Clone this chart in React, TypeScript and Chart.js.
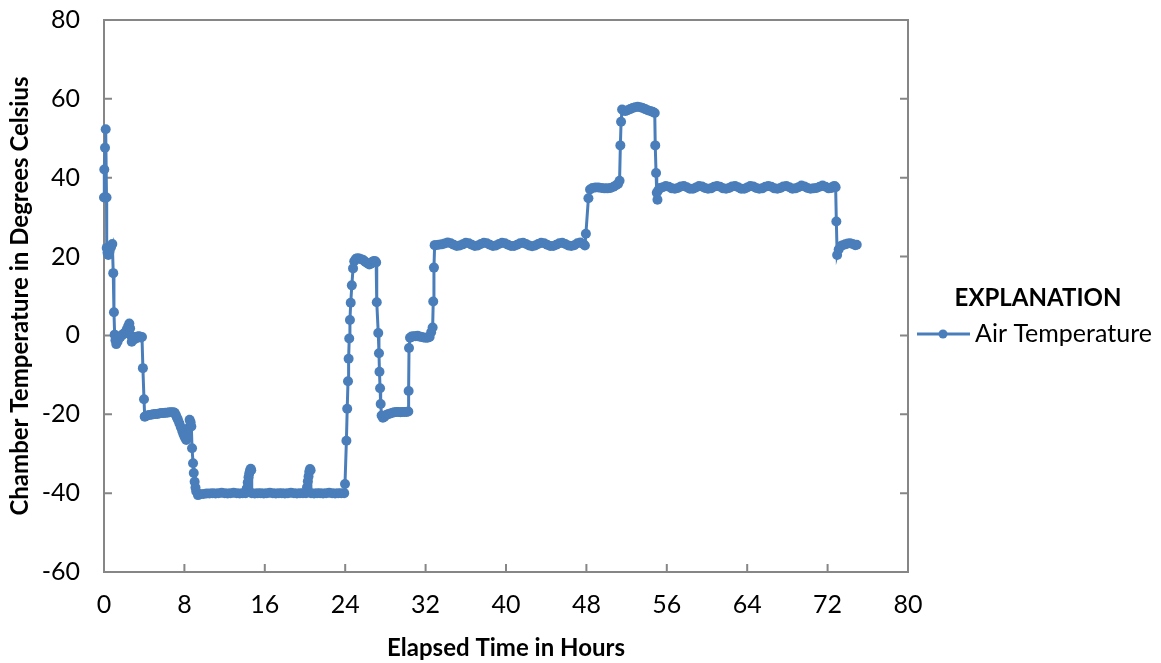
import { useEffect, useRef } from 'react';
import { Chart, registerables } from 'chart.js';

Chart.register(...registerables);

// ---- Data (hours, °C) ----
const warmupPhase: [number, number][] = [
  [0, 35], [0.03, 42.1], [0.1, 47.6], [0.17, 52.3], [0.25, 35], [0.27, 22.2], [0.35, 21.0], [0.43, 20.4],
  [0.55, 21.3], [0.7, 22.4], [0.83, 23.2], [0.92, 15.8], [0.99, 5.9], [1.06, 0.2], [1.14, -1.2], [1.22, -2.2],
  [1.35, -1.6], [1.5, -0.7], [1.65, -0.3], [1.8, 0.1], [1.95, 0.4], [2.1, 0.7], [2.25, 1.4], [2.4, 2.3],
  [2.52, 3.0], [2.6, 1.8], [2.68, 0.0], [2.76, -1.6], [2.9, -1.1], [3.05, -0.4], [3.2, -0.8], [3.35, -0.3],
  [3.5, -0.2], [3.65, -0.5], [3.78, -0.4], [3.87, -8.3], [3.98, -16.2], [4.05, -20.6],
];

const minus20Phase: [number, number][] = [
  [4.15, -20.5], [4.3, -20.3], [4.5, -20.2], [4.7, -20.1], [4.9, -20.0], [5.1, -19.9], [5.3, -19.9],
  [5.5, -19.8], [5.7, -19.7], [5.9, -19.7], [6.1, -19.6], [6.3, -19.6], [6.5, -19.5], [6.7, -19.5],
  [6.9, -19.5], [7.03, -19.6], [7.15, -20.2], [7.25, -20.8], [7.36, -21.4], [7.5, -22.3], [7.65, -23.3],
  [7.78, -24.2], [7.9, -25.0], [8.0, -25.6], [8.1, -26.1], [8.19, -26.5], [8.3, -25.2], [8.4, -23.5],
  [8.52, -21.4], [8.62, -22.0], [8.69, -23.1], [8.76, -28.6], [8.86, -32.4], [8.93, -34.9], [9.02, -37.1],
  [9.1, -38.6], [9.18, -39.6], [9.35, -40.5],
];

const minus40Phase: [number, number][] = [
  [9.6, -40.3], [9.9, -40.2], [10.2, -40.1], [10.5, -40.1], [10.8, -40.0], [11.1, -40.1], [11.4, -40.0],
  [11.7, -39.9], [12.0, -40.0], [12.3, -40.1], [12.6, -40.0], [12.9, -39.9], [13.2, -40.0], [13.5, -40.1],
  [13.8, -40.0], [14.1, -40.0], [14.2, -38.8], [14.3, -37.3], [14.38, -36.0], [14.45, -35.0], [14.52, -34.3],
  [14.6, -33.8], [14.65, -34.2], [14.7, -40.0], [15.0, -40.1], [15.3, -40.0], [15.6, -40.0], [15.9, -40.1],
  [16.2, -40.0], [16.5, -39.9], [16.8, -40.0], [17.1, -40.1], [17.4, -40.0], [17.7, -40.0], [18.0, -40.1],
  [18.3, -40.0], [18.6, -39.9], [18.9, -40.0], [19.2, -40.1], [19.5, -40.0], [19.8, -40.0], [20.1, -40.0],
  [20.2, -38.5], [20.28, -37.0], [20.35, -35.8], [20.42, -34.6], [20.5, -33.9], [20.56, -34.2], [20.6, -40.0],
  [20.9, -40.1], [21.2, -40.0], [21.5, -40.0], [21.8, -40.1], [22.1, -40.0], [22.4, -39.9], [22.7, -40.0],
  [23.0, -40.1], [23.3, -40.0], [23.6, -40.0], [23.9, -40.0],
];

const secondCyclePhase: [number, number][] = [
  [23.98, -37.7], [24.12, -26.7], [24.2, -18.6], [24.28, -11.6], [24.34, -5.9], [24.4, -0.8], [24.47, 3.9],
  [24.55, 8.3], [24.66, 12.7], [24.78, 17.0], [24.9, 18.8], [25.05, 19.4], [25.2, 19.6], [25.4, 19.5],
  [25.6, 19.3], [25.8, 19.1], [26.0, 18.7], [26.2, 18.3], [26.4, 18.0], [26.55, 18.2], [26.7, 18.6],
  [26.85, 18.9], [27.0, 18.8], [27.08, 18.5], [27.14, 8.4], [27.29, 0.6], [27.36, -4.5], [27.41, -9.2],
  [27.47, -13.4], [27.53, -17.4], [27.62, -20.3], [27.75, -20.9], [27.9, -20.6], [28.1, -20.2], [28.3, -19.9],
  [28.5, -19.8], [28.7, -19.6], [28.9, -19.5], [29.1, -19.4], [29.3, -19.4], [29.5, -19.5], [29.7, -19.4],
  [29.9, -19.4], [30.1, -19.4], [30.28, -19.3], [30.31, -14.1], [30.35, -3.2], [30.45, -0.6], [30.6, -0.3],
  [30.8, -0.2], [31.0, -0.2], [31.2, -0.1], [31.4, -0.3], [31.6, -0.4], [31.8, -0.5], [32.0, -0.6],
  [32.2, -0.6], [32.4, -0.4], [32.55, 0.8], [32.7, 2.0], [32.76, 8.6], [32.83, 17.2], [32.9, 22.9],
];

const plus23Phase: [number, number][] = [
  [33.0, 22.9], [33.3, 23.0], [33.6, 23.1], [33.9, 23.3], [34.2, 23.6], [34.5, 23.4], [34.8, 23.0],
  [35.1, 22.7], [35.4, 22.8], [35.7, 23.1], [36.0, 23.5], [36.3, 23.4], [36.6, 23.0], [36.9, 22.7],
  [37.2, 22.8], [37.5, 23.2], [37.8, 23.5], [38.1, 23.4], [38.4, 23.0], [38.7, 22.7], [39.0, 22.8],
  [39.3, 23.2], [39.6, 23.5], [39.9, 23.4], [40.2, 23.0], [40.5, 22.7], [40.8, 22.7], [41.1, 23.0],
  [41.4, 23.4], [41.7, 23.5], [42.0, 23.2], [42.3, 22.8], [42.6, 22.6], [42.9, 22.8], [43.2, 23.2],
  [43.5, 23.5], [43.8, 23.4], [44.1, 23.0], [44.4, 22.7], [44.7, 22.7], [45.0, 23.0], [45.3, 23.4],
  [45.6, 23.5], [45.9, 23.2], [46.2, 22.8], [46.5, 22.7], [46.8, 22.9], [47.1, 23.4], [47.4, 23.6],
  [47.7, 23.2], [47.85, 22.8], [47.95, 25.8], [48.2, 34.8],
];

const plus37Phase: [number, number][] = [
  [48.36, 37.0], [48.6, 37.4], [48.9, 37.5], [49.2, 37.5], [49.5, 37.4], [49.8, 37.3], [50.1, 37.3],
  [50.4, 37.4], [50.7, 37.7], [50.95, 38.1], [51.15, 38.4], [51.3, 39.2], [51.38, 48.2], [51.45, 54.2],
  [51.55, 57.3],
];

const plus57Phase: [number, number][] = [
  [51.7, 57.0], [51.9, 56.9], [52.1, 57.1], [52.35, 57.4], [52.6, 57.7], [52.85, 57.9], [53.1, 58.0],
  [53.35, 57.9], [53.6, 57.7], [53.85, 57.4], [54.1, 57.1], [54.35, 56.9], [54.6, 56.7], [54.8, 56.4],
  [54.85, 48.2], [54.93, 41.2], [55.0, 36.2], [55.07, 34.4], [55.15, 36.8],
];

const finalPhase: [number, number][] = [
  [55.3, 37.4], [55.6, 37.6], [55.9, 37.9], [56.2, 37.7], [56.5, 37.3], [56.8, 37.2], [57.1, 37.4],
  [57.4, 37.8], [57.7, 37.9], [58.0, 37.6], [58.3, 37.2], [58.6, 37.2], [58.9, 37.5], [59.2, 37.9],
  [59.5, 37.8], [59.8, 37.4], [60.1, 37.2], [60.4, 37.3], [60.7, 37.7], [61.0, 37.9], [61.3, 37.7],
  [61.6, 37.3], [61.9, 37.2], [62.2, 37.4], [62.5, 37.8], [62.8, 37.9], [63.1, 37.6], [63.4, 37.2],
  [63.7, 37.2], [64.0, 37.5], [64.3, 37.9], [64.6, 37.8], [64.9, 37.4], [65.2, 37.2], [65.5, 37.3],
  [65.8, 37.7], [66.1, 37.9], [66.4, 37.7], [66.7, 37.3], [67.0, 37.2], [67.3, 37.4], [67.6, 37.8],
  [67.9, 37.9], [68.2, 37.6], [68.5, 37.2], [68.8, 37.3], [69.1, 37.6], [69.4, 38.0], [69.7, 37.8],
  [70.0, 37.4], [70.3, 37.2], [70.6, 37.3], [70.9, 37.4], [71.2, 37.7], [71.5, 38.0], [71.8, 37.7],
  [72.1, 37.3], [72.4, 37.4], [72.55, 37.8], [72.7, 37.9], [72.8, 37.6], [72.87, 28.9], [72.95, 20.4],
  [73.1, 21.8], [73.3, 22.6], [73.5, 22.9], [73.75, 23.1], [74.0, 23.3], [74.25, 23.4], [74.5, 23.2],
  [74.75, 22.9], [74.9, 23.0],
];

const xMin = 0;
const xMax = 80;
const xStep = 8;
const yMin = -60;
const yMax = 80;
const yStep = 20;

const seriesLabel = 'Air Temperature';
const legendTitle = 'EXPLANATION';
const xTitle = 'Elapsed Time in Hours';
const yTitle = 'Chamber Temperature in Degrees Celsius';

const BLUE = '#4a7ebb';
const AXIS = '#868686';
const FONT = 'Lato, "Open Sans", sans-serif';
const FS = 25;
const FS_BOLD = 24;

const W = 1161;
const H = 663;

export default function App() {
  const ref = useRef<HTMLCanvasElement | null>(null);

  useEffect(() => {
    if (!ref.current) return;
    const points = [
      ...warmupPhase, ...minus20Phase, ...minus40Phase, ...secondCyclePhase,
      ...plus23Phase, ...plus37Phase, ...plus57Phase, ...finalPhase,
    ].map(([x, y]) => ({ x, y }));

    const framePlugin = {
      id: 'frame',
      beforeDatasetsDraw(chart: any) {
        const { ctx, chartArea, scales } = chart;
        const { left, right, top, bottom } = chartArea;
        ctx.save();
        ctx.strokeStyle = AXIS;
        ctx.lineWidth = 2;
        ctx.strokeRect(left, top, right - left, bottom - top);
        ctx.beginPath();
        scales.x.ticks.forEach((t: any) => {
          const px = scales.x.getPixelForValue(t.value);
          ctx.moveTo(px, bottom);
          ctx.lineTo(px, bottom - 8);
        });
        scales.y.ticks.forEach((t: any) => {
          const py = scales.y.getPixelForValue(t.value);
          ctx.moveTo(left, py);
          ctx.lineTo(left + 8, py);
          ctx.moveTo(right, py);
          ctx.lineTo(right - 8, py);
        });
        ctx.stroke();
        ctx.restore();
      },
      afterDraw(chart: any) {
        const { ctx } = chart;
        ctx.save();
        ctx.fillStyle = '#000';
        ctx.textBaseline = 'middle';
        ctx.textAlign = 'center';
        ctx.font = `bold ${FS_BOLD}px ${FONT}`;
        ctx.fillText(legendTitle, 1038, 298);
        ctx.strokeStyle = BLUE;
        ctx.lineWidth = 3;
        ctx.beginPath();
        ctx.moveTo(917, 334);
        ctx.lineTo(970, 334);
        ctx.stroke();
        ctx.fillStyle = BLUE;
        ctx.beginPath();
        ctx.arc(943, 334, 4.5, 0, Math.PI * 2);
        ctx.fill();
        ctx.fillStyle = '#000';
        ctx.textAlign = 'left';
        ctx.font = `${FS}px ${FONT}`;
        ctx.fillText(seriesLabel, 975, 334);
        ctx.restore();
      },
    };

    const chart = new Chart(ref.current, {
      type: 'line',
      data: {
        datasets: [
          {
            label: seriesLabel,
            data: points,
            borderColor: BLUE,
            backgroundColor: BLUE,
            borderWidth: 3,
            pointRadius: 5,
            pointBorderWidth: 0,
            pointBackgroundColor: BLUE,
            pointBorderColor: BLUE,
            tension: 0,
            clip: false as any,
          },
        ],
      },
      options: {
        responsive: false,
        animation: false,
        layout: { padding: { left: 0, top: 20, right: W - 908, bottom: 0 } },
        plugins: { legend: { display: false }, tooltip: { enabled: false } },
        scales: {
          x: {
            type: 'linear',
            min: xMin,
            max: xMax,
            grid: { display: false, drawTicks: false },
            border: { display: false },
            ticks: { stepSize: xStep, padding: 18, color: '#000', font: { family: FONT, size: FS } },
            title: {
              display: true,
              text: xTitle,
              color: '#000',
              font: { family: FONT, size: FS_BOLD, weight: 'bold', lineHeight: 1.2 },
              padding: { top: 0, bottom: 0 },
            },
            afterFit: (s: any) => { s.height = H - 572; s.paddingLeft = 0; s.paddingRight = 0; },
          },
          y: {
            type: 'linear',
            min: yMin,
            max: yMax,
            grid: { display: false, drawTicks: false },
            border: { display: false },
            ticks: { stepSize: yStep, padding: 24, color: '#000', font: { family: FONT, size: FS } },
            title: {
              display: true,
              text: yTitle,
              color: '#000',
              font: { family: FONT, size: FS_BOLD, weight: 'bold', lineHeight: 1.2 },
              padding: { top: 6, bottom: 0 },
            },
            afterFit: (s: any) => { s.width = 104; s.paddingTop = 0; s.paddingBottom = 0; },
          },
        },
      },
      plugins: [framePlugin],
    } as any);
    return () => chart.destroy();
  }, []);

  return (
    <div style={{ position: 'fixed', left: 0, top: 0, width: W, height: H, background: '#fff' }}>
      <canvas ref={ref} width={W} height={H} style={{ display: 'block', width: W, height: H }} />
    </div>
  );
}
